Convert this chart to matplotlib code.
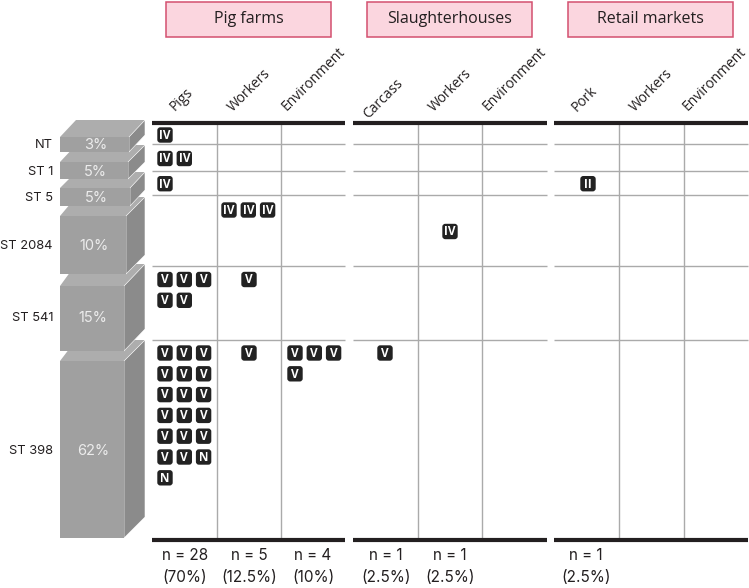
import matplotlib
matplotlib.use('Agg')
import matplotlib.pyplot as plt
from matplotlib.patches import Polygon, Rectangle, FancyBboxPatch

# data
st_names = ['NT', 'ST 1', 'ST 5', 'ST 2084', 'ST 541', 'ST 398']
st_pcts = ['3%', '5%', '5%', '10%', '15%', '62%']
groups = ['Pig farms', 'Slaughterhouses', 'Retail markets']
sources = [['Pigs', 'Workers', 'Environment'],
           ['Carcass', 'Workers', 'Environment'],
           ['Pork', 'Workers', 'Environment']]
n_labels = ['n = 28', 'n = 5', 'n = 4', 'n = 1', 'n = 1', 'n = 1']
n_pcts = ['(70%)', '(12.5%)', '(10%)', '(2.5%)', '(2.5%)', '(2.5%)']

# badges per ST row: {column: labels}
nt_types = {0: ['IV']}
st1_types = {0: ['IV', 'IV']}
st5_types = {0: ['IV'], 6: ['II']}
st2084_types = {1: ['IV', 'IV', 'IV'], 4: ['IV']}
st541_types = {0: ['V'] * 5, 1: ['V']}
st398_types = {0: ['V'] * 17 + ['N', 'N'], 1: ['V'], 2: ['V'] * 4, 3: ['V']}
row_types = [nt_types, st1_types, st5_types, st2084_types, st541_types, st398_types]

# layout, in pixels of the 749x588 picture
panels = [(152, 345), (353, 547), (554, 748)]
col_lines = [[216.5, 280.5], [418, 482], [618.5, 683.5]]
row_lines = [144, 171, 195, 266, 340]
top_y, bot_y = 122.7, 539.5
col_left = [165, 229, 295, 385, 450, 515, 588]
col_single = {1: 249}
row_first = [135, 158.5, 183.7, 210, 279.5, 353]
row_first_alt = {(3, 4): 231.5}
boxes = [(166, 331), (367, 532), (568, 733)]
label_starts = [[(175, 111), (233, 112), (287, 111)],
                [(368, 119), (434, 112), (488, 111)],
                [(577, 112), (635, 112), (688, 111)]]
n_xs = [185, 249, 313, 386, 450, 586]
# front face: x right, y top, y bottom; top edge of the back face
blocks = [(129, 137, 152, 120), (128, 162, 179, 145), (130, 188, 206, 172),
          (126, 216, 274, 197), (124, 286, 351, 264), (124, 361, 538, 340)]
block_left, block_back = 60, 145
text_ys = [145, 172, 198, 246, 318, 451]

plt.rcParams['font.family'] = ['Inter', 'DejaVu Sans']
fig = plt.figure(figsize=(7.49, 5.88), dpi=100)
ax = fig.add_axes([0, 0, 1, 1])
ax.set_xlim(0, 749)
ax.set_ylim(588, 0)
ax.axis('off')

for i, name in enumerate(st_names):
    right, y0, y1, back = blocks[i]
    dy = y0 - back
    z = 8 - i  # upper blocks lie over the ones below
    ax.add_patch(Polygon([(block_left, y0), (right, y0), (block_back, back), (block_left + 16, back)],
                         fc='#adadad', ec='none', zorder=z))
    ax.add_patch(Polygon([(right, y0), (block_back, back), (block_back, y1 - dy), (right, y1)],
                         fc='#8b8b8b', ec='white', lw=0.4, zorder=z))
    ax.add_patch(Rectangle((block_left, y0), right - block_left, y1 - y0, fc='#a0a0a0', ec='none', zorder=z))
    ax.text((block_left + right) / 2 + 1, text_ys[i], st_pcts[i], color='#ececec', fontsize=10.5,
            ha='center', va='center', zorder=10)
    ax.text(53, text_ys[i], name, color='#231f20', fontsize=9.3, ha='right', va='center', zorder=10)

for p, (x0, x1) in enumerate(panels):
    for y in row_lines:
        ax.plot([x0, x1], [y, y], color='#aaaaaa', lw=1.0, solid_capstyle='butt', zorder=2)
    for x in col_lines[p]:
        ax.plot([x, x], [top_y, bot_y], color='#aaaaaa', lw=1.0, solid_capstyle='butt', zorder=2)
    ax.plot([x0, x1], [top_y, top_y], color='#231f20', lw=3, solid_capstyle='butt', zorder=3)
    ax.plot([x0, x1], [bot_y, bot_y], color='#231f20', lw=3, solid_capstyle='butt', zorder=3)

    bx0, bx1 = boxes[p]
    ax.add_patch(Rectangle((bx0, 1.5), bx1 - bx0, 35.5, fc='#fbd6df', ec='#d3506f', lw=1.1, zorder=2))
    ax.text((bx0 + bx1) / 2, 19, groups[p], color='#231f20', fontsize=11.5, family=['Open Sans'],
            ha='center', va='center')

    for c, label in enumerate(sources[p]):
        sx, sy = label_starts[p][c]
        ax.text(sx, sy, label, rotation=45, rotation_mode='anchor', color='#231f20',
                fontsize=10, family=['Open Sans'], ha='left', va='baseline')

for r, types in enumerate(row_types):
    for col, labels in types.items():
        left = col_single.get(col, col_left[col]) if len(labels) == 1 else col_left[col]
        first = row_first_alt.get((r, col), row_first[r])
        for k, lab in enumerate(labels):
            x = left + (k % 3) * 19.3
            y = first + (k // 3) * 20.8
            ax.add_patch(FancyBboxPatch((x - 6, y - 6), 12, 12, boxstyle='round,pad=1.7,rounding_size=3',
                                        fc='#222222', ec='none', zorder=11))
            ax.text(x, y + 0.3, lab, color='white', fontsize=8.5, fontweight='bold', ha='center', va='center',
                    family=['Open Sans'], zorder=12)

for xc, lab, pct in zip(n_xs, n_labels, n_pcts):
    ax.text(xc, 555, lab, color='#231f20', fontsize=11, ha='center', va='center')
    ax.text(xc, 577, pct, color='#231f20', fontsize=11, ha='center', va='center')

fig.savefig('out.png', dpi=100)
